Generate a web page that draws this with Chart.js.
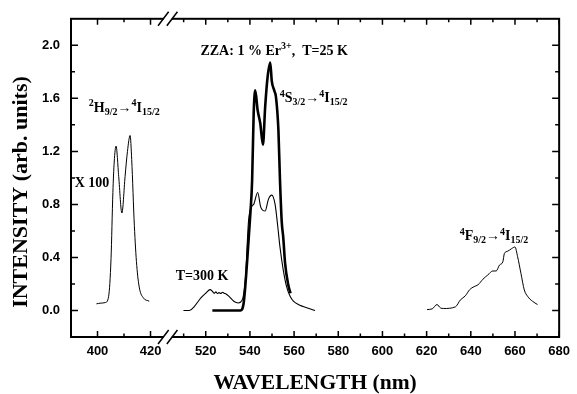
<!DOCTYPE html>
<html>
<head>
<meta charset="utf-8">
<title>ZZA: 1 % Er3+ emission</title>
<script src="https://cdn.jsdelivr.net/npm/chart.js"></script>
<style>
  html, body { margin: 0; padding: 0; background: #fff; }
  #wrap { width: 577px; height: 394px; }
</style>
</head>
<body>
<div id="wrap"><canvas id="spectrum" width="577" height="394"></canvas></div>
<script>
// --- Data ---
// 2H9/2 -> 4I15/2 band, shown x100
const h92Nm  = [399.6, 401, 403, 404.2, 405.1, 405.8, 406.3, 407, 408, 409.2, 410.4, 411.3, 412.3, 412.9, 413.9, 414.8, 415.8, 417.3, 419.5];
const h92Int = [0.05, 0.055, 0.06, 0.107, 0.39, 0.89, 1.12, 1.24, 1.01, 0.735, 1.01, 1.2, 1.32, 1.14, 0.64, 0.34, 0.17, 0.095, 0.07];

// green band at T=300 K (thin trace)
const rtNm  = [509.9, 512.6, 514.8, 517.8, 520, 522, 523, 523.8, 524.6, 525.3, 526, 526.8, 527.6, 528.3, 529.2, 530.5, 532.7, 534.7, 536.4, 537.9, 539.4, 541, 541.7, 543.5, 544.9, 546.9, 548.4, 549.9, 551.4, 552.5, 553.6, 555.1, 556.6, 558.2, 559.7, 561.9, 564.1, 567.1, 569.5];
const rtInt = [0.0, 0.0, 0.03, 0.095, 0.13, 0.157, 0.145, 0.13, 0.14, 0.128, 0.135, 0.128, 0.138, 0.13, 0.125, 0.107, 0.07, 0.057, 0.075, 0.23, 0.68, 0.79, 0.80, 0.89, 0.78, 0.75, 0.84, 0.87, 0.80, 0.65, 0.48, 0.305, 0.18, 0.107, 0.07, 0.045, 0.03, 0.013, 0.0];

// green band at T=25 K (thick trace)
const ltNm  = [523, 535.7, 537.2, 538.7, 540.2, 541, 541.7, 542.4, 543.5, 544.7, 545.9, 546.9, 548, 549.2, 549.9, 551, 551.8, 552.9, 553.6, 554.4, 555.1, 555.9, 557.4, 558.4];
const ltInt = [0.0, 0.0, 0.06, 0.36, 0.73, 0.98, 1.485, 1.66, 1.51, 1.41, 1.25, 1.535, 1.76, 1.87, 1.73, 1.66, 1.61, 1.36, 0.99, 0.67, 0.55, 0.36, 0.19, 0.13];

// 4F9/2 -> 4I15/2 band
const f92Nm  = [620.2, 622.5, 624.7, 626.2, 627.7, 633, 635.3, 637.5, 639.5, 641.5, 643.3, 645.5, 647.7, 650, 651.5, 653, 654.5, 655.2, 656.7, 658.5, 660, 661.2, 662.7, 664.2, 665.7, 667.9, 670.2];
const f92Int = [0.007, 0.012, 0.045, 0.02, 0.015, 0.027, 0.08, 0.11, 0.157, 0.18, 0.194, 0.236, 0.268, 0.298, 0.298, 0.343, 0.367, 0.43, 0.447, 0.467, 0.479, 0.405, 0.28, 0.156, 0.107, 0.07, 0.045];

// ticks of the broken wavelength axis ('' = minor tick)
const xTickNm     = [400, 410, 420, 510, 520, 530, 540, 550, 560, 570, 580, 590, 600, 610, 620, 630, 640, 650, 660, 670, 680];
const xTickLabels = ['400', '', '420', '', '520', '', '540', '', '560', '', '580', '', '600', '', '620', '', '640', '', '660', '', '680'];
const yTickValues = [0, 0.2, 0.4, 0.6, 0.8, 1.0, 1.2, 1.4, 1.6, 1.8, 2.0];
const yTickLabels = ['0.0', '', '0.4', '', '0.8', '', '1.2', '', '1.6', '', '2.0'];

// --- Broken axis: 390-425 nm is squeezed in front of the 500-680 nm part ---
function toAxis(nm) {
    return nm < 460 ? 471 + (nm - 400) * 1.2 : nm;
}
const BREAK_AT = 502.8; // axis units where the // marks sit

const SERIF = '"Liberation Serif", "Times New Roman", serif';
const SANS = '"Liberation Sans", Arial, sans-serif';

// labels: [x nm, y intensity, parts]; parts: [text, 'sup'|'sub'|undefined]
const notes = [
    [396.7, 1.50, [['2', 'sup'], ['H'], ['9/2', 'sub'], ['\u2192'], ['4', 'sup'], ['I'], ['15/2', 'sub']]],
    [391.4, 0.93, [['X 100']]],
    [517.6, 1.93, [['ZZA: 1 % Er'], ['3+', 'sup'], [',  T=25 K']]],
    [553.5, 1.57, [['4', 'sup'], ['S'], ['3/2', 'sub'], ['\u2192'], ['4', 'sup'], ['I'], ['15/2', 'sub']]],
    [506.4, 0.23, [['T=300 K']]],
    [635.0, 0.53, [['4', 'sup'], ['F'], ['9/2', 'sub'], ['\u2192'], ['4', 'sup'], ['I'], ['15/2', 'sub']]]
];

function pts(nm, val) {
    return nm.map((l, i) => ({ x: toAxis(l), y: val[i] }));
}

function drawRich(ctx, x, y, parts) {
    ctx.textBaseline = 'alphabetic';
    ctx.textAlign = 'left';
    for (const [t, kind] of parts) {
        let dy = 0;
        if (kind === 'sup') { ctx.font = 'bold 10px ' + SERIF; dy = -5.5; }
        else if (kind === 'sub') { ctx.font = 'bold 10px ' + SERIF; dy = 3; }
        else { ctx.font = 'bold 14px ' + SERIF; }
        ctx.fillText(t, x, y + dy);
        x += ctx.measureText(t).width;
    }
}

// frame with inward ticks, axis break, y title and annotations
const framePlugin = {
    id: 'frame',
    beforeDraw(chart) {
        const ctx = chart.ctx;
        ctx.save();
        ctx.fillStyle = '#fff';
        ctx.fillRect(0, 0, chart.width, chart.height);
        ctx.restore();
    },
    afterDraw(chart) {
        const ctx = chart.ctx;
        const { left, right, top, bottom } = chart.chartArea;
        const xs = chart.scales.x, ys = chart.scales.y;
        ctx.save();
        ctx.strokeStyle = '#000';
        ctx.fillStyle = '#000';

        ctx.lineWidth = 2;
        ctx.strokeRect(left, top, right - left, bottom - top);

        ctx.lineWidth = 1.5;
        ctx.beginPath();
        xTickNm.forEach((nm, i) => {
            const px = xs.getPixelForValue(toAxis(nm));
            const len = xTickLabels[i] ? 6 : 3.5;
            ctx.moveTo(px, bottom); ctx.lineTo(px, bottom - len);
            ctx.moveTo(px, top); ctx.lineTo(px, top + len);
        });
        yTickValues.forEach((v, i) => {
            const py = ys.getPixelForValue(v);
            const len = yTickLabels[i] ? 7 : 4;
            ctx.moveTo(left, py); ctx.lineTo(left + len, py);
            ctx.moveTo(right, py); ctx.lineTo(right - len, py);
        });
        ctx.stroke();

        // axis break marks
        const bx = xs.getPixelForValue(BREAK_AT);
        [top, bottom].forEach(by => {
            ctx.fillStyle = '#fff';
            ctx.fillRect(bx - 4, by - 2, 8, 4);
            ctx.beginPath();
            [-4.4, 4.4].forEach(s => {
                ctx.moveTo(bx + s - 5.3, by + 7);
                ctx.lineTo(bx + s + 5.3, by - 7);
            });
            ctx.stroke();
        });

        // y axis title
        ctx.fillStyle = '#000';
        ctx.translate(21, 192);
        ctx.rotate(-Math.PI / 2);
        ctx.font = 'bold 22px ' + SERIF;
        ctx.textAlign = 'center';
        ctx.textBaseline = 'middle';
        ctx.fillText('INTENSITY (arb. units)', 0, 0);
        ctx.setTransform(1, 0, 0, 1, 0, 0);

        notes.forEach(([nm, v, parts]) => {
            drawRich(ctx, xs.getPixelForValue(toAxis(nm)), ys.getPixelForValue(v), parts);
        });
        ctx.restore();
    }
};

document.addEventListener('DOMContentLoaded', function() {
    const line = (data, width) => ({
        data: data,
        borderColor: '#000',
        borderWidth: width,
        pointRadius: 0,
        fill: false,
        cubicInterpolationMode: 'monotone'
    });

    new Chart(document.getElementById('spectrum'), {
        type: 'line',
        data: {
            datasets: [
                line(pts(h92Nm, h92Int), 1),
                line(pts(rtNm, rtInt), 1.1),
                line(pts(ltNm, ltInt), 2.6),
                line(pts(f92Nm, f92Int), 1)
            ]
        },
        options: {
            responsive: false,
            animation: false,
            layout: { padding: { top: 15, right: 12, left: 0, bottom: 0 } },
            plugins: { legend: { display: false }, tooltip: { enabled: false } },
            scales: {
                x: {
                    type: 'linear',
                    min: toAxis(390),
                    max: 680,
                    afterBuildTicks: s => { s.ticks = xTickNm.map(nm => ({ value: toAxis(nm) })); },
                    afterFit: s => { s.height = 57; },
                    grid: { display: false, drawTicks: false },
                    border: { display: false },
                    ticks: {
                        autoSkip: false, maxRotation: 0, padding: 7, color: '#000',
                        font: { family: SANS, size: 13, weight: 'bold' },
                        callback: (v, i) => xTickLabels[i]
                    },
                    title: {
                        display: true, text: 'WAVELENGTH (nm)', color: '#000', padding: 0,
                        font: { family: SERIF, size: 21.5, weight: 'bold', lineHeight: 1 }
                    }
                },
                y: {
                    min: -0.2,
                    max: 2.2,
                    afterBuildTicks: s => { s.ticks = yTickValues.map(v => ({ value: v })); },
                    afterFit: s => { s.width = 71; },
                    grid: { display: false, drawTicks: false },
                    border: { display: false },
                    ticks: {
                        autoSkip: false, padding: 11, color: '#000',
                        font: { family: SANS, size: 13, weight: 'bold' },
                        callback: (v, i) => yTickLabels[i]
                    }
                }
            }
        },
        plugins: [framePlugin]
    });
});
</script>
</body>
</html>
